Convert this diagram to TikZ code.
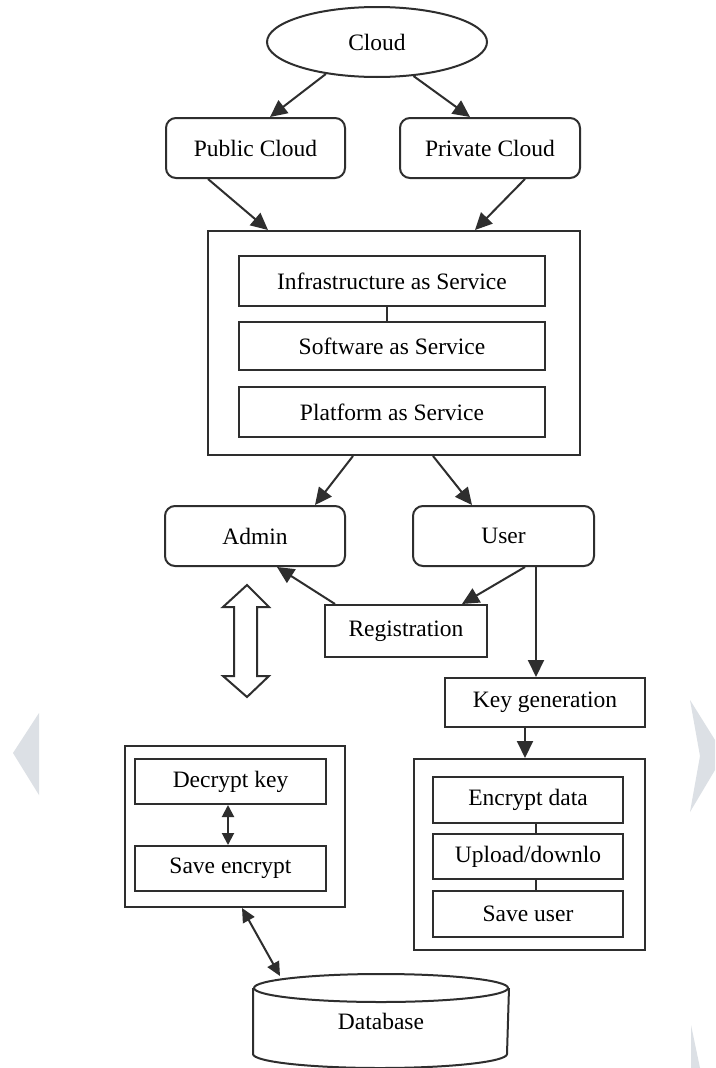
\documentclass[tikz,border=0pt]{standalone}
\usepackage{fontspec}
\setmainfont{Liberation Serif}
\usetikzlibrary{arrows.meta,shapes.geometric,calc}
\definecolor{wm}{HTML}{DCE0E5}
\definecolor{ln}{HTML}{2E2E2E}
\tikzset{
  base/.style={draw=ln, line width=2pt, inner sep=0pt, text=black,
    font=\fontsize{23.5}{27}\selectfont},
  rbox/.style={base, rounded corners=10pt},
  sbox/.style={base},
  arr/.style={draw=ln, line width=2pt, -{Triangle[length=17pt,width=16pt]}},
  darr/.style={draw=ln, line width=2pt, {Triangle[length=14pt,width=13pt]}-{Triangle[length=14pt,width=13pt]}},
  sarr/.style={draw=ln, line width=2pt, {Triangle[length=12pt,width=12pt]}-{Triangle[length=12pt,width=12pt]}},
  plain/.style={draw=ln, line width=2pt}
}
\begin{document}
\begin{tikzpicture}[x=1pt,y=-1pt]
\useasboundingbox[fill=white] (0,0) rectangle (715,1068);
% watermark shapes
\fill[wm] (39,713) -- (13,753) -- (39,795) -- cycle;
\fill[wm] (690,700) -- (715,740) -- (715,770) -- (690,812) -- (700,756) -- cycle;
\fill[wm] (691,1025) -- (700,1068) -- (691,1068) -- cycle;

% nodes
\node[base, ellipse, minimum width=220pt, minimum height=70pt] (cloud) at (377,42) {Cloud};
\node[rbox, minimum width=179pt, minimum height=60pt] (pub) at (255.5,148) {Public Cloud};
\node[rbox, minimum width=180pt, minimum height=60pt] (priv) at (490,148) {Private Cloud};

\node[sbox, minimum width=372pt, minimum height=224pt] (big) at (394,343) {};
\node[sbox, minimum width=306pt, minimum height=50pt] (iaas) at (392,281) {Infrastructure as Service};
\node[sbox, minimum width=306pt, minimum height=48pt] (saas) at (392,346) {Software as Service};
\node[sbox, minimum width=306pt, minimum height=50pt] (paas) at (392,412) {Platform as Service};

\node[rbox, minimum width=180pt, minimum height=60pt] (admin) at (255,536) {Admin};
\node[rbox, minimum width=181pt, minimum height=60pt] (user) at (503.5,536) {User};
\node[sbox, minimum width=162pt, minimum height=52pt] (reg) at (406,631) {Registration};

\node[sbox, minimum width=200pt, minimum height=49pt] (kg) at (545,702.5) {Key generation};
\node[sbox, minimum width=231pt, minimum height=191pt] (rbx) at (529.5,854.5) {};
\node[sbox, minimum width=190pt, minimum height=46pt] (enc) at (528,800) {Encrypt data};
\node[sbox, minimum width=190pt, minimum height=45pt] (up) at (528,856.5) {Upload/downlo};
\node[sbox, minimum width=190pt, minimum height=46pt] (su) at (528,914) {Save user};

\node[sbox, minimum width=220pt, minimum height=161pt] (lbx) at (235,826.5) {};
\node[sbox, minimum width=191pt, minimum height=45pt] (dk) at (230.5,781.5) {Decrypt key};
\node[sbox, minimum width=191pt, minimum height=45pt] (se) at (230.5,868.5) {Save encrypt};

\node[base, draw=none, minimum width=254pt, minimum height=92pt] (db) at (381,1021) {Database};
% cylinder
\draw[plain] ($(db.north)+(0,14)$) ellipse [x radius=127pt, y radius=14pt];
\draw[plain] ($(db.north west)+(0,14)$) -- ($(db.south west)+(0,-14)$)
  arc[start angle=180, end angle=360, x radius=127pt, y radius=14pt]
  -- ($(db.north east)+(0,14)$);

% hollow double arrow
\draw[plain, line join=miter] (247,585) -- (269,607) -- (257,607) -- (257,676) -- (269,676)
  -- (247,697) -- (223,676) -- (234,676) -- (234,607) -- (223,607) -- cycle;

% connectors
\draw[arr] (cloud.212) -- ([xshift=14.5pt]pub.north);
\draw[arr] (cloud.317) -- ([xshift=-20pt]priv.north);
\draw[arr] ([xshift=-47.5pt]pub.south) -- ([xshift=-126pt]big.north);
\draw[arr] ([xshift=35pt]priv.south) -- ([xshift=81pt]big.north);
\draw[plain] ([xshift=-5pt]iaas.south) -- ([xshift=-5pt]saas.north);
\draw[arr] ([xshift=-41pt]big.south) -- ([xshift=60pt]admin.north);
\draw[arr] ([xshift=39pt]big.south) -- ([xshift=-31.5pt]user.north);
\draw[arr] ([xshift=-71pt]reg.north) -- ([xshift=22pt]admin.south);
\draw[arr] ([xshift=21.5pt]user.south) -- ([xshift=56pt]reg.north);
\draw[arr] ([xshift=32.5pt]user.south) -- ([xshift=32.5pt]user.south |- kg.north);
\draw[arr] ([xshift=-20pt]kg.south) -- ([xshift=-20pt]kg.south |- rbx.north);
\draw[plain] ([xshift=8pt]enc.south) -- ([xshift=8pt]up.north);
\draw[plain] ([xshift=8pt]up.south) -- ([xshift=8pt]su.north);
\draw[sarr] ([xshift=-2.5pt]dk.south) -- ([xshift=-2.5pt]se.north);
\draw[darr] ([xshift=7pt]lbx.south) -- ([xshift=-101pt,yshift=-2pt]db.north);
\end{tikzpicture}
\end{document}
